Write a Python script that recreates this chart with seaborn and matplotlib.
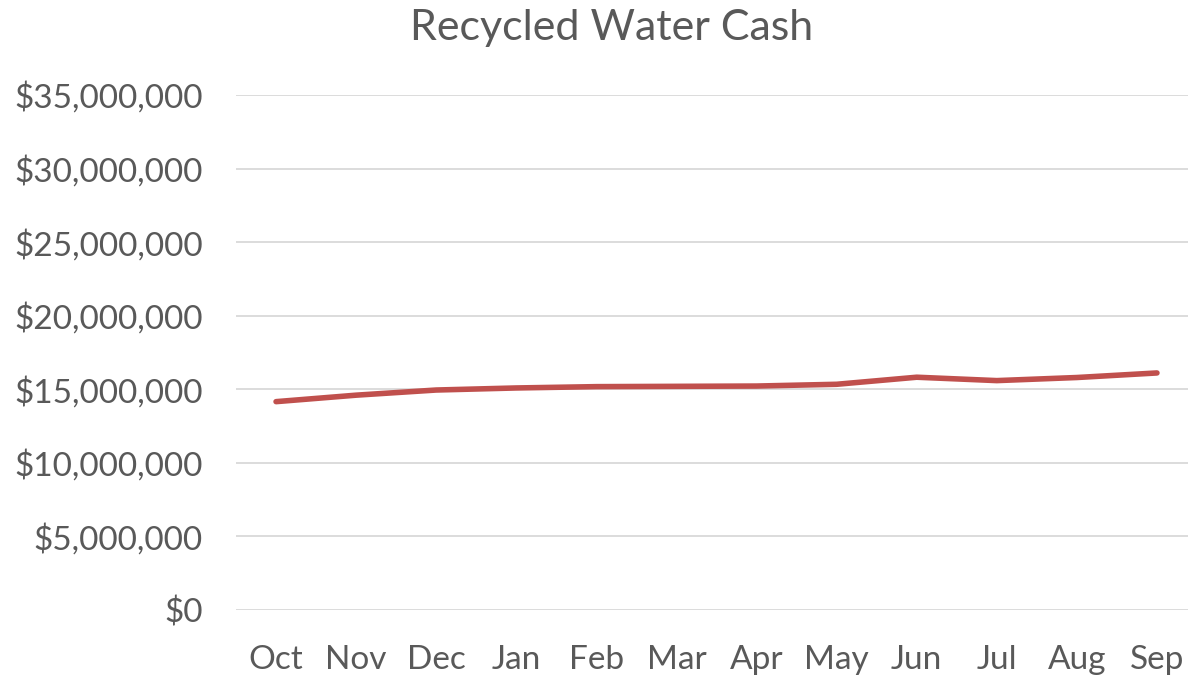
import pandas as pd
import matplotlib.pyplot as plt
import matplotlib.ticker as mticker
import seaborn as sns

months = ['Oct', 'Nov', 'Dec', 'Jan', 'Feb', 'Mar',
          'Apr', 'May', 'Jun', 'Jul', 'Aug', 'Sep']
cash = [14160000, 14600000, 14950000, 15090000, 15180000, 15200000,
        15220000, 15340000, 15820000, 15590000, 15800000, 16110000]

df = pd.DataFrame({'month': months, 'cash': cash})

sns.set_style('white')
plt.rcParams['font.family'] = ['Lato', 'DejaVu Sans']

fig = plt.figure(figsize=(11.88, 6.77), dpi=100)
ax = fig.add_axes([236 / 1188, 1 - 610 / 677, 961 / 1188, 515 / 677])

sns.lineplot(data=df, x='month', y='cash', sort=False, ax=ax,
             color='#C0504D', linewidth=4.0, solid_capstyle='round')

ax.set_ylim(0, 35000000)
ax.set_xlim(-0.5, len(months) - 0.5)
ax.yaxis.set_major_locator(mticker.MultipleLocator(5000000))
ax.yaxis.set_major_formatter(mticker.FuncFormatter(lambda v, p: '${:,.0f}'.format(v)))
ax.grid(axis='y', color='#D9D9D9', linewidth=1.3)
ax.set_axisbelow(True)
for s in ax.spines.values():
    s.set_visible(False)
ax.tick_params(axis='both', length=0, labelsize=24, labelcolor='#595959')
ax.tick_params(axis='y', pad=24)
ax.tick_params(axis='x', pad=25)
ax.set_xlabel('')
ax.set_ylabel('')

fig.text(612 / 1188, 1 - 28 / 677, 'Recycled Water Cash', ha='center', va='center',
         fontsize=31, color='#595959')

fig.savefig('out.png', dpi=100)
